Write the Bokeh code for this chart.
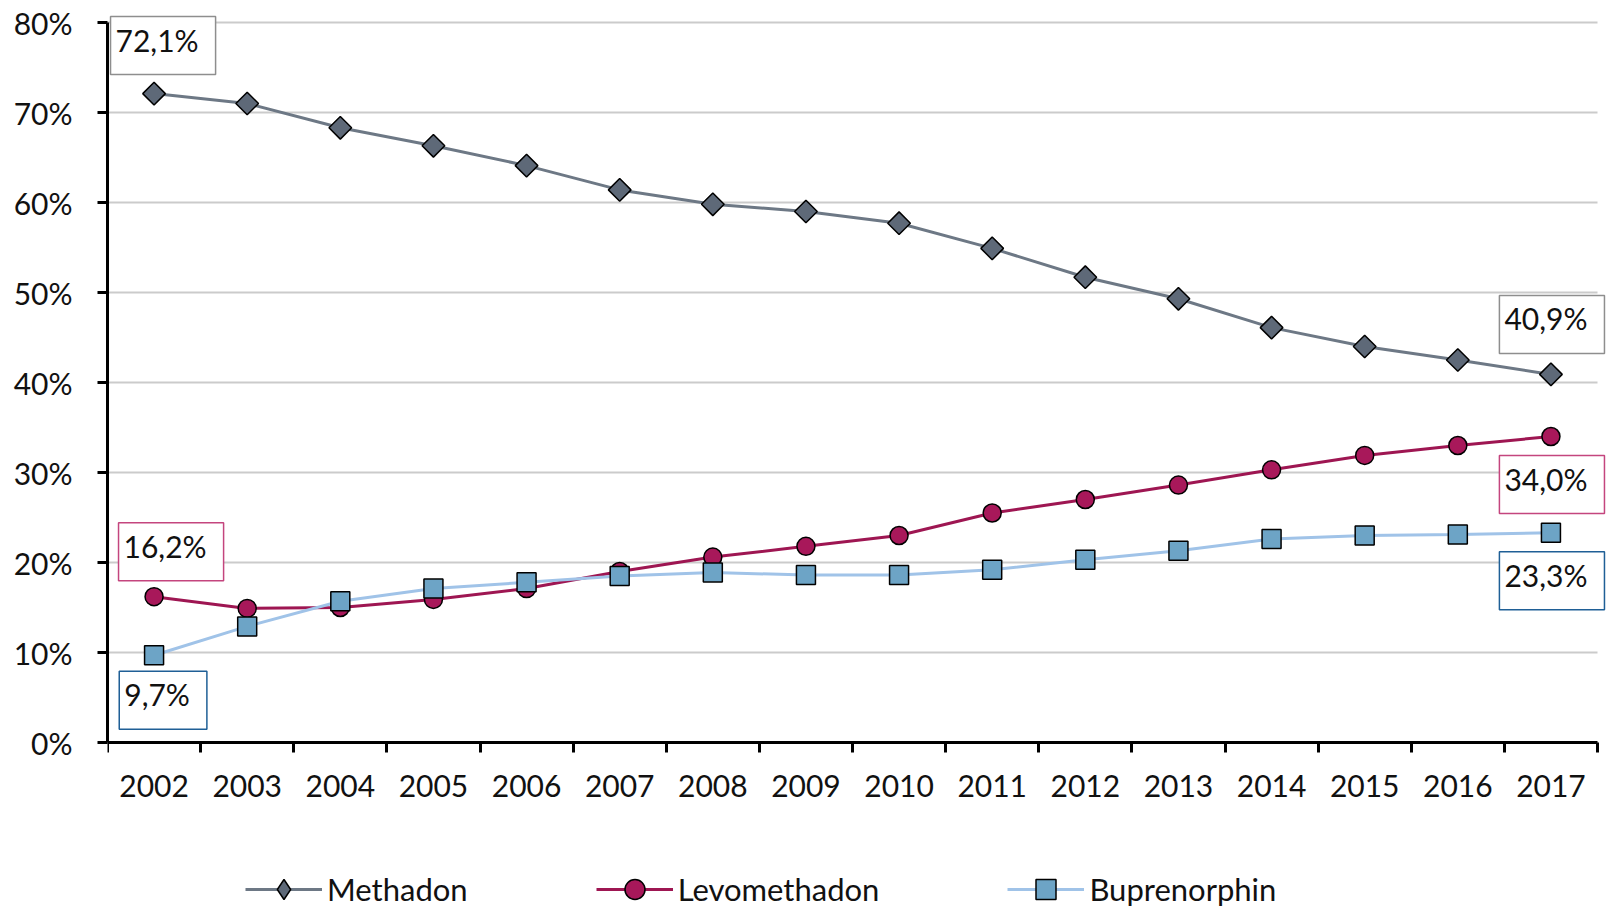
import numpy as np
from bokeh.plotting import figure
from bokeh.models import Range1d, FixedTicker, Label, Legend, LegendItem
from bokeh.embed import file_html
from bokeh.resources import INLINE

years = ["2002", "2003", "2004", "2005", "2006", "2007", "2008", "2009",
         "2010", "2011", "2012", "2013", "2014", "2015", "2016", "2017"]
methadon = [72.1, 71.0, 68.3, 66.3, 64.1, 61.4, 59.8, 59.0, 57.7, 54.9, 51.7, 49.3, 46.1, 44.0, 42.5, 40.9]
levomethadon = [16.2, 14.9, 15.0, 15.9, 17.1, 19.0, 20.6, 21.8, 23.0, 25.5, 27.0, 28.6, 30.3, 31.9, 33.0, 34.0]
buprenorphin = [9.7, 12.9, 15.7, 17.1, 17.8, 18.5, 18.9, 18.6, 18.6, 19.2, 20.3, 21.3, 22.6, 23.0, 23.1, 23.3]
y_ticks = [0, 10, 20, 30, 40, 50, 60, 70, 80]

FONT = "Lato"
FS = "30px"
LEG_FS = "31px"
TXT = "#111111"

# layout (pixels)
W, H = 1612, 907
LEFT = 107            # plot-area left edge
AXIS_Y = 742          # pixel row of the 0 % line
PX_PER_CAT = 1490 / len(years)
PX_PER_PCT = 720 / y_ticks[-1]

n = len(years)
xs = [i + 0.5 for i in range(n)]

x_range = Range1d(0, (W - LEFT) / PX_PER_CAT)
y_range = Range1d(-(H - AXIS_Y) / PX_PER_PCT, AXIS_Y / PX_PER_PCT)

p = figure(width=W, height=H, x_range=x_range, y_range=y_range,
           output_backend="svg", toolbar_location=None,
           min_border_left=LEFT, min_border_right=0, min_border_top=0, min_border_bottom=0)
p.outline_line_color = None
p.background_fill_color = "white"
p.border_fill_color = "white"
p.xgrid.visible = False
p.ygrid.visible = False

# horizontal grid lines
p.segment(x0=[0] * (len(y_ticks) - 1), x1=[n] * (len(y_ticks) - 1),
          y0=y_ticks[1:], y1=y_ticks[1:], line_color="#cbcbcb", line_width=2)

# x axis (fixed at 0 %)
xa = p.xaxis[0]
xa.fixed_location = 0
xa.bounds = (0, n)
xa.ticker = FixedTicker(ticks=xs, minor_ticks=list(range(n + 1)))
xa.major_label_overrides = {x: y for x, y in zip(xs, years)}
xa.major_tick_line_color = None
xa.major_tick_out = 0
xa.major_tick_in = 0
xa.minor_tick_out = 10
xa.minor_tick_in = 0
xa.minor_tick_line_width = 3
xa.minor_tick_line_color = "black"
xa.axis_line_width = 3
xa.axis_line_color = "black"
xa.major_label_standoff = 22
xa.major_label_text_font = FONT
xa.major_label_text_font_size = FS
xa.major_label_text_color = TXT

# y axis
ya = p.yaxis[0]
ya.bounds = (0, y_ticks[-1])
ya.ticker = FixedTicker(ticks=y_ticks)
ya.major_label_overrides = {v: f"{v}%" for v in y_ticks}
ya.minor_tick_line_color = None
ya.major_tick_out = 10
ya.major_tick_in = 0
ya.major_tick_line_width = 3
ya.major_tick_line_color = "black"
ya.axis_line_width = 3
ya.axis_line_color = "black"
ya.major_label_standoff = 25
ya.major_label_text_font = FONT
ya.major_label_text_font_size = FS
ya.major_label_text_color = TXT

# series
M_LINE, M_FILL = "#6d7885", "#5e6978"
L_LINE, L_FILL = "#9e1652", "#a8185a"
B_LINE, B_FILL = "#a0c3e8", "#6da4c6"

l1 = p.line(xs, methadon, line_color=M_LINE, line_width=3)
l2 = p.line(xs, levomethadon, line_color=L_LINE, line_width=3)
l3 = p.line(xs, buprenorphin, line_color=B_LINE, line_width=3)
# diamond marker (used by the legend; hidden under the rotated squares in the plot)
d1 = p.scatter(xs, methadon, marker="diamond", size=20,
               fill_color=M_FILL, line_color="black", line_width=1.5)
s1 = p.scatter(xs, methadon, marker="square", angle=np.pi / 4, size=16,
               fill_color=M_FILL, line_color="black", line_width=1.5)
s2 = p.scatter(xs, levomethadon, marker="circle", size=18,
               fill_color=L_FILL, line_color="black", line_width=1.5)
s3 = p.scatter(xs, buprenorphin, marker="square", size=19,
               fill_color=B_FILL, line_color="black", line_width=1.5)


def fmt(v):
    return f"{v:.1f}%".replace(".", ",")


def add_label(x, y, xo, yo, border):
    p.add_layout(Label(x=x, y=y, x_offset=xo, y_offset=yo, text=fmt(y),
                       text_font=FONT, text_font_size=FS, text_color=TXT,
                       text_align="center", text_baseline="middle",
                       border_line_color=border, border_line_width=1.5,
                       background_fill_color="white", padding=(5, 17, 5, 17)))


GRAY_B = "#8e8e8e"
PINK_B = "#c4457e"
BLUE_B = "#1f5f96"
add_label(xs[0], methadon[0], 9, 48, GRAY_B)
add_label(xs[0], levomethadon[0], 17, 45, PINK_B)
add_label(xs[0], buprenorphin[0], 9, -45, BLUE_B)
add_label(xs[-1], methadon[-1], 1, 50, GRAY_B)
add_label(xs[-1], levomethadon[-1], 1, -48, PINK_B)
add_label(xs[-1], buprenorphin[-1], 1, -48, BLUE_B)

legend = Legend(items=[LegendItem(label="Methadon", renderers=[l1, d1]),
                       LegendItem(label="Levomethadon", renderers=[l2, s2]),
                       LegendItem(label="Buprenorphin", renderers=[l3, s3])],
                orientation="horizontal", location=(138, -7),
                glyph_width=77, glyph_height=50, label_height=50, label_standoff=5,
                spacing=128, padding=0, margin=0,
                border_line_color=None, background_fill_alpha=0,
                label_text_font=FONT, label_text_font_size=LEG_FS, label_text_color=TXT)
p.add_layout(legend)

open("out.html", "w").write(file_html(p, INLINE))
